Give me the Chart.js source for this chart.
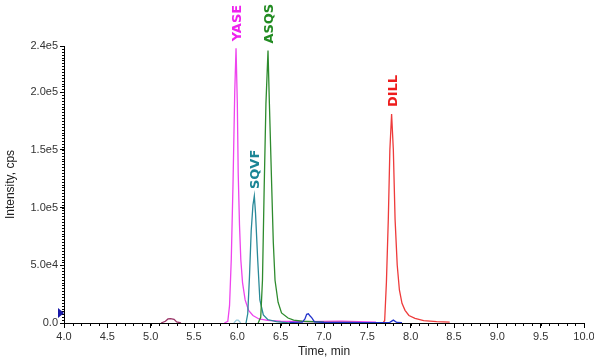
<!DOCTYPE html>
<html>
<head>
<meta charset="utf-8">
<script src="https://cdn.jsdelivr.net/npm/chart.js@4.4.1/dist/chart.umd.min.js"></script>
<style>
html,body{margin:0;padding:0;background:#fff;}
#wrap{width:594px;height:360px;position:relative;}
</style>
</head>
<body>
<div id="wrap"><canvas id="c" width="594" height="360"></canvas></div>
<script>
// ---- data (time in min, intensity in cps) ----
const xTicks = [4.0,4.5,5.0,5.5,6.0,6.5,7.0,7.5,8.0,8.5,9.0,9.5,10.0];
const yTicks = [0, 50000, 100000, 150000, 200000, 240000];
const yTickLabels = ["0.0","5.0e4","1.0e5","1.5e5","2.0e5","2.4e5"];

const yaseTime = [5.85,5.89,5.91,5.93,5.95,5.97,5.985,6.00,6.01,6.025,6.04,6.06,6.09,6.13,6.18,6.25,6.35,6.5,6.8,7.2,7.6];
const yaseInt  = [0,1500,15000,55000,120000,200000,238000,190000,130000,85000,55000,35000,20000,11000,6500,3500,2200,1500,1200,1500,800];

const asqsTime = [6.24,6.27,6.29,6.31,6.33,6.354,6.37,6.396,6.415,6.435,6.47,6.51,6.585,6.65,6.75,7.0,7.3,7.6];
const asqsInt  = [0,5000,37000,118000,190000,236000,190000,120000,70000,37000,18000,8700,4300,2500,1500,800,600,0];

const sqvfTime = [6.10,6.12,6.14,6.16,6.18,6.196,6.21,6.235,6.26,6.30,6.35,6.45,6.6];
const sqvfInt  = [0,8000,40000,80000,102000,110000,95000,55000,20000,7000,3000,1200,0];

const dillTime = [7.68,7.70,7.72,7.742,7.76,7.78,7.80,7.82,7.845,7.87,7.90,7.935,7.98,8.05,8.15,8.3,8.45];
const dillInt  = [0,2000,35000,90000,150000,181000,150000,90000,50000,28600,17000,11000,6500,4000,2000,1200,800];

const blueTime = [6.6,6.75,6.78,6.80,6.82,6.84,6.86,6.89,7.0,7.7,7.76,7.80,7.84,7.9];
const blueInt  = [500,800,3500,7500,8000,6000,4500,1000,500,300,600,2500,500,300];

const purpleTime = [5.12,5.17,5.20,5.23,5.27,5.30,5.35];
const purpleInt  = [0,1500,3500,3800,3200,1000,0];

const cyanTime = [5.96,5.99,6.01,6.04];
const cyanInt  = [0,2500,2500,0];

const markerLevel = [8700];

const peakLabels = ["YASE","ASQS","SQVF","DILL"];
const peakColors = ["#ee22ee","#228b22","#1a8595","#ee1c1c"];

// ---- build ----
const pts = (t, v) => t.map((x, i) => ({x: x, y: v[i]}));
function ds(label, t, v, color, peakIdx) {
  return {label, data: pts(t, v), borderColor: color, borderWidth: 1.3,
          pointRadius: 0, tension: 0, fill: false, peakIdx};
}
const datasets = [
  ds("purple", purpleTime, purpleInt, "#993366"),
  ds("cyan", cyanTime, cyanInt, "#99ccdd"),
  ds("blue", blueTime, blueInt, "#2233cc"),
  ds("DILL", dillTime, dillInt, "#ee3b3b", 3),
  ds("ASQS", asqsTime, asqsInt, "#2e8b2e", 1),
  ds("SQVF", sqvfTime, sqvfInt, "#2a8a99", 2),
  ds("YASE", yaseTime, yaseInt, "#ee44ee", 0),
];

const extras = {
  id: 'extras',
  afterDatasetsDraw(chart) {
    const ctx = chart.ctx;
    const xs = chart.scales.x, ys = chart.scales.y;
    ctx.save();
    // minor ticks
    ctx.strokeStyle = '#000'; ctx.lineWidth = 1;
    ctx.beginPath();
    for (let i = 40; i <= 100; i++) {
      const px = Math.round(xs.getPixelForValue(i / 10)) + 0.5;
      ctx.moveTo(px, ys.bottom); ctx.lineTo(px, ys.bottom + 3);
    }
    for (let v = 0; v <= 240000; v += 2500) {
      const py = Math.round(ys.getPixelForValue(v)) + 0.5;
      ctx.moveTo(xs.left - 2, py); ctx.lineTo(xs.left, py);
    }
    ctx.stroke();
    // marker triangle
    const my = ys.getPixelForValue(markerLevel[0]);
    ctx.fillStyle = '#1a1aa8';
    ctx.beginPath();
    ctx.moveTo(xs.left - 6, my - 5);
    ctx.lineTo(xs.left, my);
    ctx.lineTo(xs.left - 6, my + 5);
    ctx.closePath(); ctx.fill();
    // peak labels
    ctx.font = 'bold 13px "DejaVu Sans"';
    chart.data.datasets.forEach(d => {
      if (d.peakIdx === undefined) return;
      let top = d.data[0];
      d.data.forEach(p => { if (p.y > top.y) top = p; });
      const px = xs.getPixelForValue(top.x);
      const py = ys.getPixelForValue(top.y);
      ctx.save();
      ctx.translate(px + 5, py - 7);
      ctx.rotate(-Math.PI / 2);
      ctx.fillStyle = peakColors[d.peakIdx];
      ctx.textAlign = 'left';
      ctx.textBaseline = 'alphabetic';
      ctx.fillText(peakLabels[d.peakIdx], 0, 0);
      ctx.restore();
    });
    ctx.restore();
  }
};

new Chart(document.getElementById('c'), {
  type: 'line',
  data: {datasets},
  options: {
    responsive: false,
    animation: false,
    layout: {padding: {top: 46, right: 10, left: 0, bottom: 0}},
    plugins: {legend: {display: false}, tooltip: {enabled: false}},
    scales: {
      x: {
        type: 'linear', min: 4, max: 10,
        afterBuildTicks: s => { s.ticks = xTicks.map(v => ({value: v})); },
        afterFit: s => { s.height = 37; s.paddingRight = 0; s.paddingLeft = 0; },
        ticks: {callback: v => Number(v).toFixed(1), color: '#333', font: {family: 'Liberation Sans', size: 11}, padding: 2, maxRotation: 0, autoSkip: false},
        grid: {drawOnChartArea: false, drawTicks: true, tickLength: 5, color: '#000'},
        border: {color: '#000', width: 1},
        title: {display: true, text: 'Time, min', color: '#222', font: {family: 'Liberation Sans', size: 12}, padding: {top: 0, bottom: 1}}
      },
      y: {
        type: 'linear', min: 0, max: 240000,
        afterBuildTicks: s => { s.ticks = yTicks.map(v => ({value: v})); },
        afterFit: s => { s.width = 64; s.paddingTop = 0; s.paddingBottom = 0; },
        ticks: {callback: (v) => yTickLabels[yTicks.indexOf(v)], color: '#333', font: {family: 'Liberation Sans', size: 11}, padding: 2, autoSkip: false},
        grid: {drawOnChartArea: false, drawTicks: true, tickLength: 4, color: '#000'},
        border: {color: '#000', width: 1},
        title: {display: true, text: 'Intensity, cps', color: '#222', font: {family: 'Liberation Sans', size: 12}, padding: {top: 3, bottom: 0}}
      }
    }
  },
  plugins: [extras]
});
</script>
</body>
</html>
